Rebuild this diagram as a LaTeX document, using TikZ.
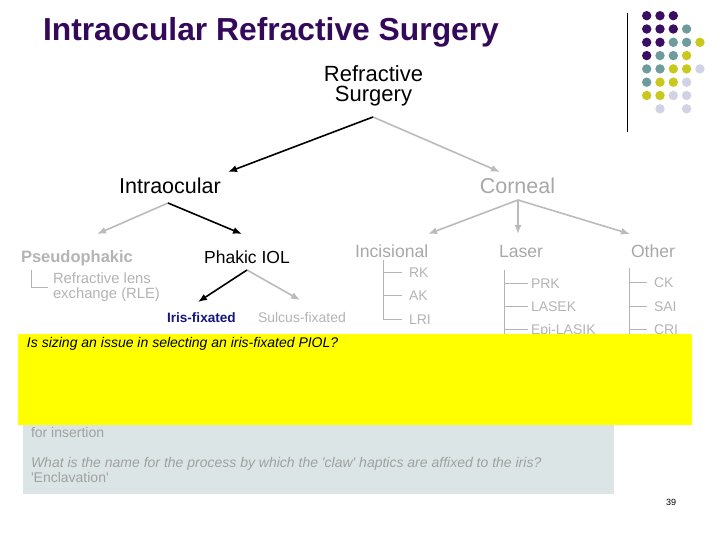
\documentclass[tikz,border=0pt]{standalone}
\usepackage{fontspec}
\setmainfont{Liberation Sans}
\usetikzlibrary{arrows.meta}
\definecolor{ttl}{HTML}{33095A}
\definecolor{dpur}{HTML}{3A0E62}
\definecolor{dteal}{HTML}{6E9C9C}
\definecolor{dyel}{HTML}{C8C81E}
\definecolor{dlav}{HTML}{D2D2E6}
\definecolor{lgray}{HTML}{A8A8A8}
\definecolor{sgray}{HTML}{B4B4B4}
\definecolor{agray}{HTML}{BBBBBB}
\definecolor{boxbg}{HTML}{DCE5E5}
\definecolor{btxt}{HTML}{A0A0A0}
\definecolor{navy}{HTML}{16167E}
\definecolor{qyel}{HTML}{FFFF00}
\newcommand{\fsz}[1]{\fontsize{#1}{#1}\selectfont}
\begin{document}
\begin{tikzpicture}[x=1pt,y=-1pt,
  txt/.style={inner sep=0pt, outer sep=0pt},
  barr/.style={draw=black, line width=1.6pt, -{Latex[length=9pt,width=7pt]}},
  garr/.style={draw=agray, line width=1.6pt, -{Latex[length=9pt,width=7pt]}},
  treeline/.style={draw=sgray, line width=0.8pt},
  leaf/.style={txt, anchor=base west, text=sgray, font=\fsz{14}},
  head/.style={txt, anchor=base west, text=lgray, font=\fsz{17.6}},
  dot/.style={circle, inner sep=0pt, minimum size=9.4pt}]
\useasboundingbox (0,0) rectangle (720,540);
\fill[white] (0,0) rectangle (720,540);

% title
\node[txt, anchor=base west, text=ttl, font=\fsz{31.8}\bfseries] (title) at (43,41) {Intraocular Refractive Surgery};

% decoration
\coordinate (vt) at (627,13);
\coordinate (vb) at (627,132);
\draw[line width=1pt] (vt) -- (vb);
\foreach \c/\r/\col in {0/0/dpur,1/0/dpur,2/0/dpur,
  0/1/dpur,1/1/dpur,2/1/dpur,3/1/dteal,
  0/2/dpur,1/2/dpur,2/2/dteal,3/2/dteal,4/2/dyel,
  0/3/dpur,1/3/dteal,2/3/dteal,3/3/dyel,
  0/4/dteal,1/4/dteal,2/4/dyel,3/4/dyel,4/4/dlav,
  0/5/dteal,1/5/dyel,2/5/dyel,3/5/dlav,
  0/6/dyel,1/6/dyel,2/6/dlav,3/6/dlav,
  1/7/dlav,3/7/dlav}
  \node[dot, fill=\col] (d\c\r) at ({646.7+13.3*\c},{15.7+13.3*\r}) {};

% top level
\node[txt, anchor=base, font=\fsz{22}] (rs1) at (373.5,82) {Refractive};
\node[txt, anchor=base, font=\fsz{22}] (rs2) at (373.5,102) {Surgery};
\coordinate (rsA) at (373,117);
\coordinate (ioT) at (228,172);
\coordinate (coT) at (500,172);
\draw[garr] (rsA) -- (coT);
\draw[barr] (rsA) -- (ioT);

\node[txt, anchor=base, font=\fsz{21.5}] (io) at (170,194) {Intraocular};
\node[txt, anchor=base, font=\fsz{21.5}, text=lgray] (co) at (517.5,194) {Corneal};

% intraocular branch
\coordinate (ioA) at (168,203);
\coordinate (psT) at (97,234);
\coordinate (phT) at (242,234);
\draw[garr] (ioA) -- (psT);
\draw[barr] (ioA) -- (phT);

\node[txt, anchor=base west, text=sgray, font=\fsz{16.5}\bfseries] (ps) at (21,262) {Pseudophakic};
\coordinate (psL1) at (31,270);
\coordinate (psL2) at (31,287);
\coordinate (psL3) at (48,287);
\draw[treeline] (psL1) -- (psL2) -- (psL3);
\node[leaf, font=\fsz{14.8}] (rle1) at (53,283) {Refractive lens};
\node[leaf, font=\fsz{14.8}] (rle2) at (53,298) {exchange (RLE)};

\node[txt, anchor=base, font=\fsz{17.5}] (ph) at (247,263) {Phakic IOL};
\coordinate (phA) at (247,270);
\coordinate (irT) at (198,302);
\coordinate (suT) at (300,300);
\draw[garr] (phA) -- (suT);
\draw[barr] (phA) -- (irT);
\node[txt, anchor=base west, text=navy, font=\fsz{13.6}\bfseries] (ir) at (167,322) {Iris-fixated};
\node[txt, anchor=base west, text=sgray, font=\fsz{14}] (su) at (258,322) {Sulcus-fixated};

% corneal branch
\coordinate (coA) at (518,200);
\coordinate (inT) at (428,234);
\coordinate (laT) at (518,234);
\coordinate (otT) at (630,234);
\draw[garr] (coA) -- (inT);
\draw[garr] (coA) -- (laT);
\draw[garr] (coA) -- (otT);

\node[head] (inc) at (355,258) {Incisional};
\node[head] (las) at (499,258) {Laser};
\node[head] (oth) at (631,257) {Other};

% incisional tree
\coordinate (inV1) at (383,260);
\coordinate (inV2) at (383,319);
\draw[treeline] (inV1) -- (inV2);
\foreach \y/\t [count=\i] in {272/RK,295/AK,319/LRI}{
  \coordinate (inb\i) at (383,\y);
  \coordinate (ine\i) at (402,\y);
  \draw[treeline] (inb\i) -- (ine\i);
  \node[leaf] (inl\i) at (409,\y+5) {\t};
}
% laser tree
\coordinate (laV1) at (504,270);
\coordinate (laV2) at (504,345);
\draw[treeline] (laV1) -- (laV2);
\foreach \y/\t [count=\i] in {283/PRK,306/LASEK,329/Epi-LASIK}{
  \coordinate (lab\i) at (504,\y);
  \coordinate (lae\i) at (528,\y);
  \draw[treeline] (lab\i) -- (lae\i);
  \node[leaf] (lal\i) at (531,\y+5) {\t};
}
% other tree
\coordinate (otV1) at (629,268);
\coordinate (otV2) at (629,345);
\draw[treeline] (otV1) -- (otV2);
\foreach \y/\t [count=\i] in {282/CK,306/SAI,329/CRI}{
  \coordinate (otb\i) at (629,\y);
  \coordinate (ote\i) at (647,\y);
  \draw[treeline] (otb\i) -- (ote\i);
  \node[leaf] (otl\i) at (654,\y+5) {\t};
}

% answer box
\fill[boxbg] (23,338) rectangle (614,494);
\node[txt, anchor=base west, text=btxt, font=\fsz{14}] (ans1) at (31,437) {for insertion};
\node[txt, anchor=base west, text=btxt, font=\fsz{14}\itshape] (ans2) at (31,467) {What is the name for the process by which the \textquotesingle claw\textquotesingle\ haptics are affixed to the iris?};
\node[txt, anchor=base west, text=btxt, font=\fsz{14}] (ans3) at (31,482) {\textquotesingle Enclavation\textquotesingle};

% question box
\fill[qyel] (18,334) rectangle (692,425);
\node[txt, anchor=base west, font=\fsz{14}\itshape] (q) at (27,347) {Is sizing an issue in selecting an iris-fixated PIOL?};

\node[txt, font=\fsz{9}] (pg) at (671,502) {39};
\end{tikzpicture}
\end{document}
